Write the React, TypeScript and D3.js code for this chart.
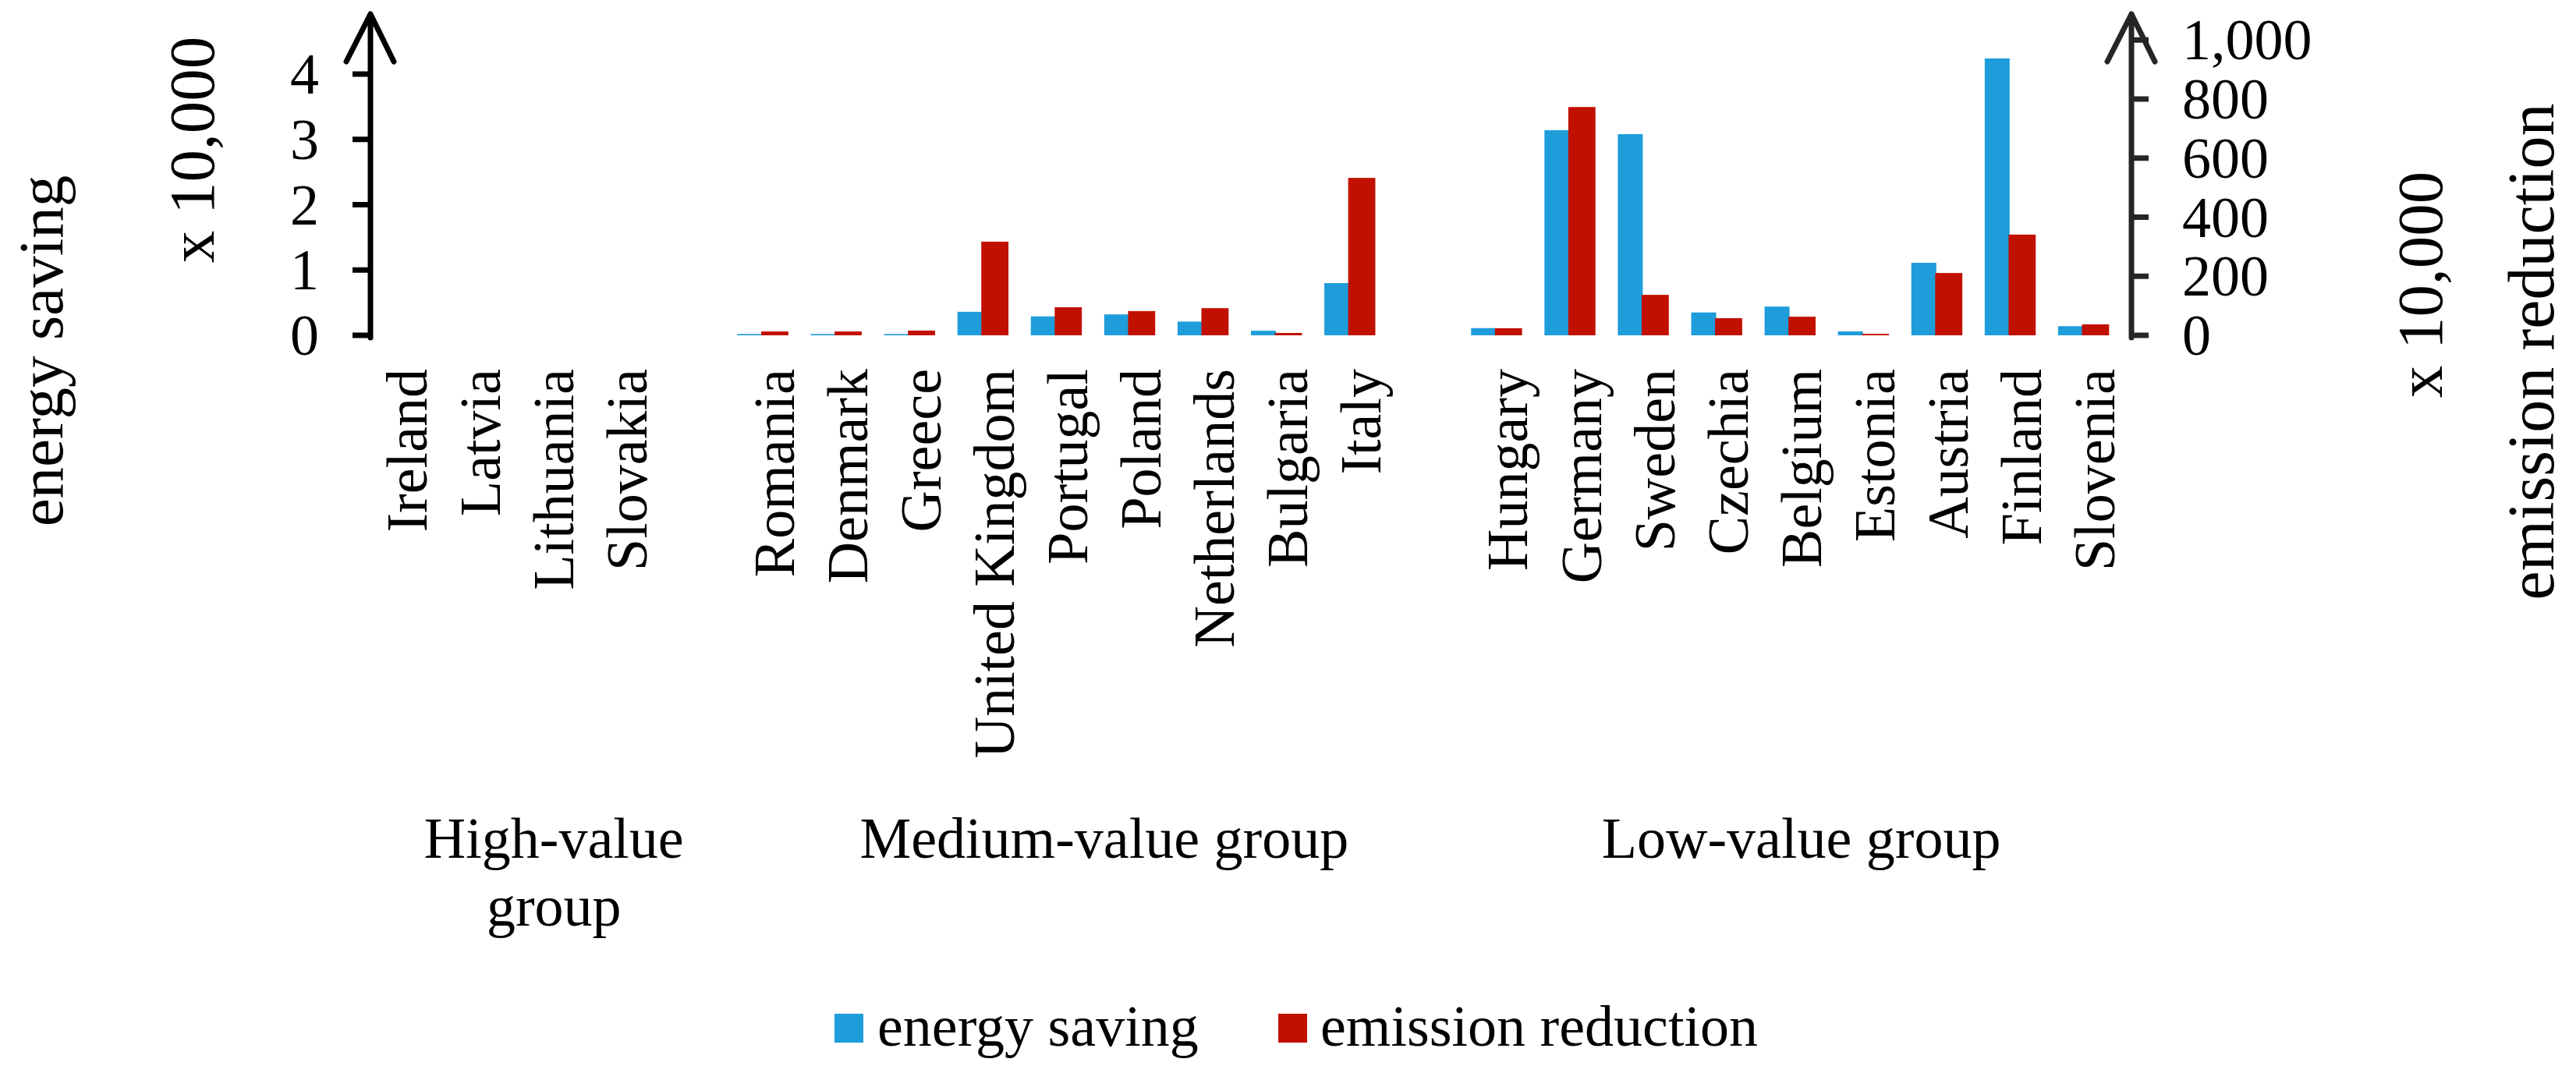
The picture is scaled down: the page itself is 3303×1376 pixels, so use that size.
import * as d3 from "d3";

// energy saving and emission reduction by country, both in units of 10,000
const highGroup = ["Ireland", "Latvia", "Lithuania", "Slovakia"];
const mediumGroup = [
  "Romania",
  "Denmark",
  "Greece",
  "United Kingdom",
  "Portugal",
  "Poland",
  "Netherlands",
  "Bulgaria",
  "Italy",
];
const lowGroup = [
  "Hungary",
  "Germany",
  "Sweden",
  "Czechia",
  "Belgium",
  "Estonia",
  "Austria",
  "Finland",
  "Slovenia",
];

const groupNames = [["High-value", "group"], ["Medium-value group"], ["Low-value group"]];

const energySaving = [
  0, 0, 0, 0,
  0.02, 0.02, 0.02, 0.36, 0.29, 0.32, 0.21, 0.07, 0.8,
  0.11, 3.14, 3.08, 0.35, 0.44, 0.06, 1.11, 4.24, 0.14,
];
const emissionReduction = [
  0, 0, 0, 0,
  13, 13, 16, 317, 95, 82, 92, 8, 533,
  24, 773, 137, 58, 63, 5, 211, 341, 37,
];

const leftTicks = [0, 1, 2, 3, 4];
const rightTicks = [0, 200, 400, 600, 800, 1000];

const BLUE = "#1E9DDA";
const RED = "#C11000";
const FONT = "'Liberation Serif', 'Times New Roman', serif";

const countries = [...highGroup, ...mediumGroup, ...lowGroup];
const slots = [...highGroup, "gap-1", ...mediumGroup, "gap-2", ...lowGroup];

export default function App() {
  const width = 3303;
  const height = 1376;
  const plotLeft = 475;
  const plotRight = 2733;
  const baseY = 430;
  const axisTop = 18;

  const x = d3.scaleBand<string>().domain(slots).range([plotLeft, plotRight]).padding(0);
  const bw = x.bandwidth();
  const yLeft = d3.scaleLinear().domain([0, 4]).range([baseY, 95]);
  const yRight = d3.scaleLinear().domain([0, 800]).range([baseY, 127]);

  const groups = [
    { lines: groupNames[0], from: highGroup[0], to: "gap-1" },
    { lines: groupNames[1], from: mediumGroup[0], to: "gap-2" },
    { lines: groupNames[2], from: lowGroup[0], to: lowGroup[lowGroup.length - 1] },
  ];

  const arrow = (cx: number, color: string) => {
    const p = d3.path();
    p.moveTo(cx, baseY + 3);
    p.lineTo(cx, axisTop);
    p.moveTo(cx - 31, axisTop + 61);
    p.lineTo(cx, axisTop);
    p.lineTo(cx + 30, axisTop + 61);
    return (
      <path
        d={p.toString()}
        fill="none"
        stroke={color}
        strokeWidth={7}
        strokeLinecap="round"
        strokeLinejoin="round"
      />
    );
  };

  return (
    <>
      <style>{`body{margin:0}`}</style>
      <svg width={width} height={height} viewBox={`0 0 ${width} ${height}`} fontFamily={FONT}>
        <rect width={width} height={height} fill="#fff" />

        {countries.map((c, i) => {
          const x0 = x(c) ?? 0;
          const es = energySaving[i];
          const er = emissionReduction[i];
          return (
            <g key={c}>
              {es > 0 && (
                <rect x={x0} y={yLeft(es)} width={bw * 0.34} height={baseY - yLeft(es)} fill={BLUE} />
              )}
              {er > 0 && (
                <rect
                  x={x0 + bw * 0.325}
                  y={yRight(er)}
                  width={bw * 0.37}
                  height={baseY - yRight(er)}
                  fill={RED}
                />
              )}
            </g>
          );
        })}

        {/* left axis */}
        {arrow(plotLeft, "#000")}
        {leftTicks.map((t) => (
          <g key={`l${t}`}>
            <line x1={plotLeft - 23} x2={plotLeft} y1={yLeft(t)} y2={yLeft(t)} stroke="#000" strokeWidth={7} />
            <text x={409} y={yLeft(t)} dy="0.34em" textAnchor="end" fontSize={74}>
              {d3.format(",")(t)}
            </text>
          </g>
        ))}

        {/* right axis */}
        {arrow(plotRight, "#262626")}
        {rightTicks.map((t) => (
          <g key={`r${t}`}>
            <line x1={plotRight} x2={plotRight + 22} y1={yRight(t)} y2={yRight(t)} stroke="#262626" strokeWidth={7} />
            <text x={2798} y={yRight(t)} dy="0.34em" textAnchor="start" fontSize={74}>
              {d3.format(",")(t)}
            </text>
          </g>
        ))}

        {/* category labels */}
        {countries.map((c) => (
          <text
            key={`t${c}`}
            transform={`translate(${(x(c) ?? 0) + bw / 2},473) rotate(-90)`}
            dy="0.34em"
            textAnchor="end"
            fontSize={74}
          >
            {c}
          </text>
        ))}

        {/* group labels */}
        {groups.map((g) => {
          const cx = ((x(g.from) ?? 0) + (x(g.to) ?? 0) + bw) / 2;
          return (
            <text key={g.lines[0]} x={cx} y={1100} textAnchor="middle" fontSize={74}>
              {g.lines.map((line, k) => (
                <tspan key={line} x={cx} dy={k === 0 ? 0 : 87}>
                  {line}
                </tspan>
              ))}
            </text>
          );
        })}

        {/* axis titles */}
        <text transform="translate(80,450) rotate(-90)" textAnchor="middle" fontSize={81}>
          energy saving
        </text>
        <text transform="translate(274,192) rotate(-90)" textAnchor="middle" fontSize={83}>
          x 10,000
        </text>
        <text transform="translate(3131,365) rotate(-90)" textAnchor="middle" fontSize={83}>
          x 10,000
        </text>
        <text transform="translate(3274,451) rotate(-90)" textAnchor="middle" fontSize={84}>
          emission reduction
        </text>

        {/* legend */}
        <rect x={1070} y={1300} width={37} height={37} fill={BLUE} />
        <text x={1125} y={1341} fontSize={74}>
          energy saving
        </text>
        <rect x={1639} y={1300} width={37} height={37} fill={RED} />
        <text x={1693} y={1341} fontSize={74}>
          emission reduction
        </text>
      </svg>
    </>
  );
}
